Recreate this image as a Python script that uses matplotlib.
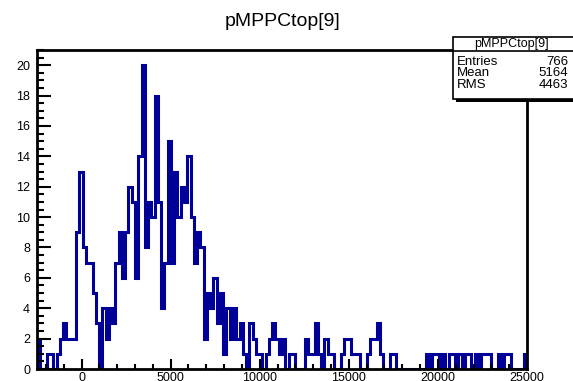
import numpy as np
import matplotlib
matplotlib.use("Agg")
import matplotlib.pyplot as plt
from matplotlib.patches import Rectangle
from matplotlib.lines import Line2D

plt.rcParams['font.family'] = ['Liberation Sans', 'DejaVu Sans']

# ---- data ----
title = "pMPPCtop[9]"
x_min, x_max, n_bins = -2500, 25000, 150
counts = [2, 0, 0, 1, 1, 0, 1, 2, 3, 2, 2, 2,
          9, 13, 8, 7, 7, 5, 3,
          0, 4, 2, 4, 3, 7, 9, 6, 9, 12, 11, 6,
          14, 20, 8, 11, 10, 18, 11, 4, 7, 15, 7, 13,
          10, 12, 11, 14, 10, 7, 9, 8, 2, 5, 4, 6, 3, 5,
          1, 4, 2, 4, 2, 3, 1, 0, 3, 2, 1, 1, 0, 1, 2, 3, 2, 1, 2, 0, 1, 1, 0,
          0, 0, 2, 1, 1, 3, 1, 0, 2, 1, 1, 0, 0, 1, 2, 2, 1, 1, 1, 0, 0, 1, 2, 2, 3, 1, 0, 0, 1, 1,
          0, 0, 0, 0, 0, 0, 0, 0, 0,
          1, 0, 1, 1, 0, 1, 0, 1, 1, 0, 1, 0, 1, 1, 0, 1, 0, 1, 1, 1, 0, 0, 1, 0, 1, 1, 0, 0, 0, 0, 1]
x_ticks = [0, 5000, 10000, 15000, 20000, 25000]
y_ticks = [0, 2, 4, 6, 8, 10, 12, 14, 16, 18, 20]
stats_labels = ["Entries", "Mean", "RMS"]
stats_values = ["766", "5164", "4463"]

edges = np.linspace(x_min, x_max, n_bins + 1)

W, H = 573, 381
fig = plt.figure(figsize=(W / 100, H / 100), dpi=100)
fig.patch.set_facecolor("white")

def fx(px):
    return px / W

def fy(py):
    return 1 - py / H

left, right, top, bottom = 37, 527, 50, 369
ax = fig.add_axes([fx(left), fy(bottom), fx(right) - fx(left), fy(top) - fy(bottom)])
ax.stairs(counts, edges, color="#000099", lw=2.2)
ax.set_xlim(x_min, x_max)
ax.set_ylim(0, 21)

for s in ax.spines.values():
    s.set_linewidth(2.0)
    s.set_color("black")

ax.set_xticks(x_ticks)
ax.set_xticklabels([str(v) for v in x_ticks])
ax.set_xticks(np.arange(-2000, 25001, 1000), minor=True)
ax.set_yticks(y_ticks)
ax.set_yticks(np.arange(0, 21.01, 0.5), minor=True)
ax.tick_params(axis="x", which="major", direction="in", length=7, width=1.5, labelsize=9, pad=2)
ax.tick_params(axis="x", which="minor", direction="in", length=3.5, width=1.5)
ax.tick_params(axis="y", which="major", direction="in", length=10, width=1.5, labelsize=9, pad=5)
ax.tick_params(axis="y", which="minor", direction="in", length=5, width=1.5)

fig.text(fx(283), fy(22), title, ha="center", va="center", fontsize=14)

# stats box
bx0, bx1, by0, by1, hy = 453, 580, 37, 99, 51
fig.add_artist(Rectangle((fx(bx0 + 3), fy(by1 + 3)), fx(bx1) - fx(bx0), fy(by0 + 3) - fy(by1 + 3),
                         transform=fig.transFigure, facecolor="black", edgecolor="black", lw=0))
fig.add_artist(Rectangle((fx(bx0), fy(by1)), fx(bx1) - fx(bx0), fy(by0) - fy(by1),
                         transform=fig.transFigure, facecolor="white", edgecolor="black", lw=1.2))
fig.add_artist(Line2D([fx(bx0), fx(bx1)], [fy(hy), fy(hy)], transform=fig.transFigure, color="black", lw=1.2))
fig.text(fx(511), fy(44), title, ha="center", va="center", fontsize=9)
for k, (lab, val) in enumerate(zip(stats_labels, stats_values)):
    yy = 62 + 11.3 * k
    fig.text(fx(457), fy(yy), lab, ha="left", va="center", fontsize=9.5)
    fig.text(fx(568), fy(yy), val, ha="right", va="center", fontsize=9.5)

fig.savefig("out.png", dpi=100, facecolor="white")
